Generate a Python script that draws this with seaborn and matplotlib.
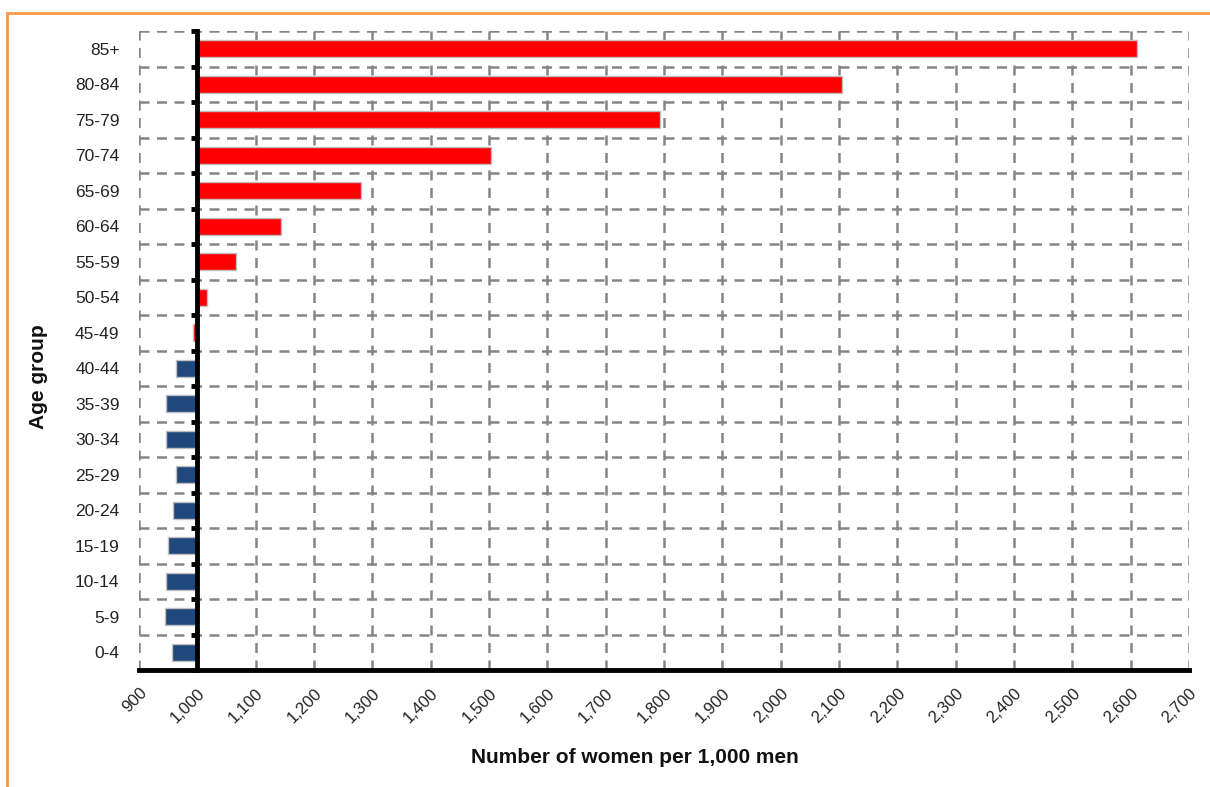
import numpy as np
import pandas as pd
import matplotlib
matplotlib.use("Agg")
import matplotlib.pyplot as plt
import seaborn as sns
from matplotlib.ticker import FuncFormatter
from matplotlib.patches import Rectangle

# ---- data ----
age_groups = ["85+", "80-84", "75-79", "70-74", "65-69", "60-64", "55-59", "50-54",
              "45-49", "40-44", "35-39", "30-34", "25-29", "20-24", "15-19", "10-14",
              "5-9", "0-4"]
women_per_1000_men = [2610, 2105, 1793, 1503, 1281, 1143, 1066, 1017,
                      993, 963, 946, 946, 963, 959, 950, 946, 945, 957]
bar_group = ["45+"] * 9 + ["under 45"] * 9
baseline = 1000
x_ticks = list(range(900, 2701, 100))

sns.set_theme(style="white")
plt.rcParams["font.family"] = ["Liberation Sans", "DejaVu Sans"]

df = pd.DataFrame({"age": age_groups, "value": women_per_1000_men, "group": bar_group})
df["diff"] = df["value"] - baseline

fig = plt.figure(figsize=(12.1, 7.87), dpi=100)
ax = fig.add_axes([139 / 1210, 1 - 670 / 787, 1050 / 1210, 639 / 787])

sns.barplot(data=df, y="age", x="diff", hue="group", order=age_groups,
            palette={"45+": "#FF0000", "under 45": "#1F497D"}, dodge=False,
            saturation=1, width=0.48, edgecolor="#BFBFBF", linewidth=1,
            legend=False, ax=ax, zorder=3)

ax.set_xlim(x_ticks[0] - baseline, x_ticks[-1] - baseline)
ax.set_ylim(len(age_groups) - 0.5, -0.5)
ax.set_xticks([t - baseline for t in x_ticks])
ax.xaxis.set_major_formatter(FuncFormatter(lambda v, p: f"{v + baseline:,.0f}"))
ax.set_yticks(np.arange(-0.5, len(age_groups), 1), minor=True)

# grid
ax.grid(axis="x", which="major", color="#858585", ls=(0, (4, 3)), lw=1.8, zorder=0)
ax.grid(axis="y", which="minor", color="#858585", ls=(0, (4, 3)), lw=1.8, zorder=0)
ax.grid(axis="y", which="major", visible=False)
ax.set_axisbelow(True)

for s in ["top", "right"]:
    ax.spines[s].set_visible(False)
ax.spines["bottom"].set_color("black")
ax.spines["bottom"].set_linewidth(3.5)
ax.spines["bottom"].set_zorder(5)
ax.spines["left"].set_position(("data", 0))
ax.spines["left"].set_color("black")
ax.spines["left"].set_linewidth(3.5)
ax.spines["left"].set_zorder(6)

ax.tick_params(axis="y", which="major", length=0, pad=56, labelsize=12.5,
               labelcolor="#222222")
ax.tick_params(axis="y", which="minor", length=4, width=3.5, color="black",
               direction="out", left=True)
ax.tick_params(axis="x", which="major", length=4, width=3.5, color="black",
               direction="out", labelsize=12, labelcolor="#222222", pad=7)
for lab in ax.get_xticklabels():
    lab.set_rotation(45)
    lab.set_ha("right")
    lab.set_rotation_mode("anchor")

ax.set_xlabel("Number of women per 1,000 men", fontsize=15, fontweight="bold",
              color="#111111")
ax.xaxis.set_label_coords((635 - 139) / 1050, (670 - 748) / 639)
ax.set_ylabel("Age group", fontsize=15, fontweight="bold", color="#111111")
ax.yaxis.set_label_coords((48 - 139) / 1050, (670 - 377) / 639)

# orange frame
fig.patches.append(Rectangle((7 / 1210, -0.05), 1.1, (787 - 13) / 787 + 0.05,
                             transform=fig.transFigure, fill=False,
                             edgecolor="#F79646", lw=2, zorder=0))

fig.savefig("out.png", dpi=100)
